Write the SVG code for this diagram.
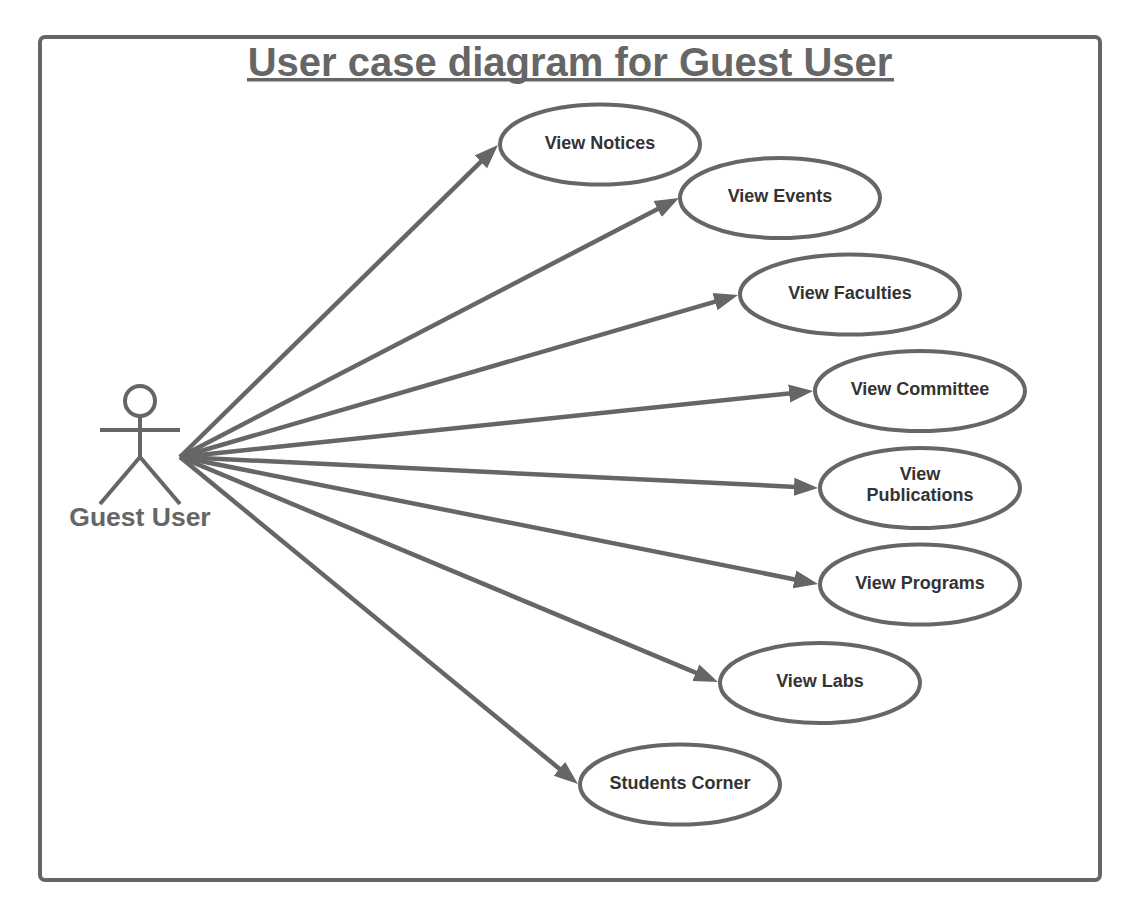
<svg xmlns="http://www.w3.org/2000/svg" width="1129" height="916" viewBox="0 0 1129 916">
<style>
text{font-family:"Liberation Sans",Arial,sans-serif;font-weight:bold;text-anchor:middle}
.u text{font-size:18px;fill:#333}
.u ellipse{fill:#fff;stroke:#666;stroke-width:4}
.c line{stroke:#666;stroke-width:4.500;marker-end:url(#a)}
.s{fill:none;stroke:#666;stroke-width:4}
</style>
<defs><marker id="a" markerUnits="userSpaceOnUse" markerWidth="26" markerHeight="20" refX="12" refY="10" orient="auto"><path d="M0 1L24 10L0 19Z" fill="#666"/></marker></defs>
<rect width="1129" height="916" fill="#fff"/>
<rect id="frame" x="40" y="37" width="1060" height="843" rx="5" fill="#fff" stroke="#666" stroke-width="4"/>
<g id="title"><text x="570" y="76" font-size="40" fill="#666">User case diagram for Guest User</text><rect x="247" y="78" width="647" height="3.500" fill="#666"/></g>
<g class="c" id="connectors">
<line x1="180" y1="457" x2="489.400" y2="153.400"/>
<line x1="180" y1="457" x2="668.300" y2="203.500"/>
<line x1="180" y1="457" x2="726.500" y2="298.300"/>
<line x1="180" y1="457" x2="801.100" y2="392.200"/>
<line x1="180" y1="457" x2="806" y2="487.400"/>
<line x1="180" y1="457" x2="806.200" y2="581.700"/>
<line x1="180" y1="457" x2="706.900" y2="677.400"/>
<line x1="180" y1="457" x2="568.700" y2="776.400"/>
</g>
<g id="actor"><circle class="s" cx="140" cy="401" r="15"/><path class="s" d="M140 416V457M100 430H180M100 504L140 457L180 504"/><text x="140" y="526" font-size="26.500" fill="#666">Guest User</text></g>
<g class="u">
<g id="u1"><ellipse cx="600" cy="144.500" rx="100" ry="40"/><text x="600" y="148.500">View Notices</text></g>
<g id="u2"><ellipse cx="780" cy="198" rx="100" ry="40"/><text x="780" y="202">View Events</text></g>
<g id="u3"><ellipse cx="850" cy="294.500" rx="110" ry="40"/><text x="850" y="298.500">View Faculties</text></g>
<g id="u4"><ellipse cx="920" cy="391" rx="105" ry="40"/><text x="920" y="395">View Committee</text></g>
<g id="u5"><ellipse cx="920" cy="488" rx="100" ry="40"/><text x="920" y="479.500">View</text><text x="920" y="501">Publications</text></g>
<g id="u6"><ellipse cx="920" cy="584.500" rx="100" ry="40"/><text x="920" y="589">View Programs</text></g>
<g id="u7"><ellipse cx="820" cy="683" rx="100" ry="40"/><text x="820" y="687">View Labs</text></g>
<g id="u8"><ellipse cx="680" cy="784.500" rx="100" ry="40"/><text x="680" y="789">Students Corner</text></g>
</g>
</svg>
